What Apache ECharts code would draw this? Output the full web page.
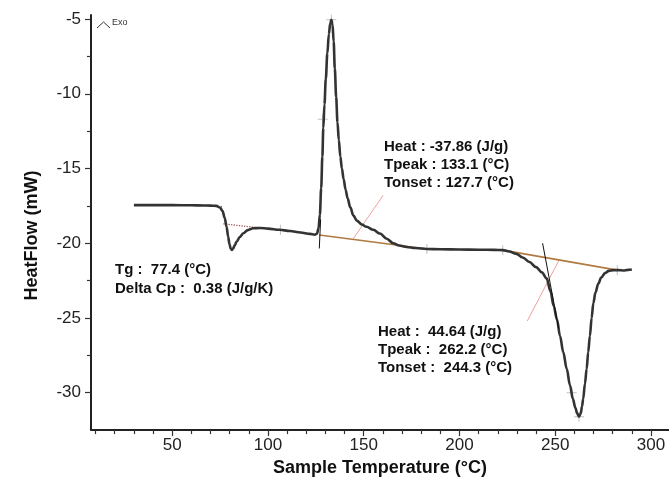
<!DOCTYPE html>
<html><head><meta charset="utf-8">
<script src="https://cdn.jsdelivr.net/npm/echarts@6/dist/echarts.min.js"></script>
<style>html,body{margin:0;padding:0;background:#fff}#c{width:669px;height:482px}</style>
</head><body><div id="c"></div>
<script>
// DSC curve: sample temperature (°C) and heat flow (mW)
const temperature = [30,40,50,60,66,70,73,75,76.3,77.4,78.4,79.2,79.9,80.5,81.1,81.8,82.7,83.7,85.3,87.1,89.5,92.3,96,100,106,111.5,117,121.9,124.5,125.6,126.4,127.1,127.8,128.4,128.9,129.5,130.2,131,131.8,132.5,133.1,133.7,134.3,134.9,135.6,136.3,137,137.8,138.6,139.5,140.5,141.6,143,144.6,146.5,149,151.5,155,158.5,162,165.4,168.5,172.4,177,183,190,200,210,218,222.5,226,229.5,233,236.5,240,243,245.5,247.5,249.2,250.9,252.5,254.2,256,257.7,259.2,260.5,261.5,262.4,263.3,264,264.6,265.5,266.4,267.2,268.1,269,269.9,271,272.5,274,276,278,280.3,283,285.5,288,290];
const heatFlow = [-17.45,-17.45,-17.45,-17.46,-17.47,-17.48,-17.5,-17.62,-17.85,-18.3,-18.9,-19.55,-20.05,-20.35,-20.45,-20.35,-20.12,-19.88,-19.58,-19.33,-19.12,-19.0,-18.98,-19.02,-19.1,-19.18,-19.28,-19.37,-19.43,-19.35,-19.0,-18.1,-16.3,-14.2,-12.3,-10.7,-9.0,-7.3,-6.0,-5.3,-5.05,-5.35,-6.5,-8.3,-10.2,-11.9,-13.1,-14.2,-15.0,-15.7,-16.4,-17.0,-17.6,-18.15,-18.5,-18.75,-18.9,-19.1,-19.35,-19.7,-20.0,-20.15,-20.25,-20.32,-20.38,-20.4,-20.42,-20.43,-20.44,-20.46,-20.55,-20.7,-20.95,-21.25,-21.6,-21.95,-22.35,-23.2,-24.2,-25.1,-26.2,-27.3,-28.4,-29.5,-30.4,-31.0,-31.4,-31.6,-31.4,-30.9,-30.4,-29.4,-28.4,-27.3,-26.2,-25.0,-24.0,-23.3,-22.7,-22.3,-22.0,-21.85,-21.8,-21.8,-21.82,-21.78,-21.75];

// integration baselines [x, y]
const exoBaseline = [[126.8,-19.45],[183,-20.38]];
const endoBaseline = [[222.6,-20.46],[282.4,-21.8]];
// onset tangents
const exoTangent = [[126.8,-20.35],[127.5,-18.4]];
const endoTangent = [[243.4,-20.0],[251.8,-25.7]];
// pointer lines to the result texts
const exoPointer = [[144.5,-19.7],[160.1,-16.8]];
const endoPointer = [[235.4,-25.2],[252.1,-21.1]];
// glass transition extrapolated baselines
const tgUpper = [[64.5,-17.45],[76.7,-17.55]];
const tgLower = [[76.7,-18.7],[97.5,-19.0]];
// analysis markers
const markers = [[106.5,-19.1],[183,-20.38],[222.6,-20.46],[282.4,-21.8],[258.6,-30.0],[262.4,-31.6],[128.6,-11.7],[133.1,-5.05]];

// axes
const xRange = [7.6, 309.4];
const yRange = [-32.5, -4.73];
const xMajorTicks = [50,100,150,200,250,300];
const xMinorTicks = [10,20,30,40,60,70,80,90,110,120,130,140,160,170,180,190,210,220,230,240,260,270,280,290];
const yMajorTicks = [-30,-25,-20,-15,-10,-5];
const yMinorTicks = [-27.5,-22.5,-17.5,-12.5,-7.5];

// annotation texts
const exoText = ['Heat : -37.86 (J/g)','Tpeak : 133.1 (°C)','Tonset : 127.7 (°C)'];
const tgText = ['Tg :  77.4 (°C)','Delta Cp :  0.38 (J/g/K)'];
const endoText = ['Heat :  44.64 (J/g)','Tpeak :  262.2 (°C)','Tonset :  244.3 (°C)'];

const FONT = '"Liberation Sans", Arial, sans-serif';
const curve = temperature.map((t, i) => [t, heatFlow[i]]);

function seg(data, color, width, type) {
  return { type: 'line', data: data, showSymbol: false, silent: true, animation: false,
    lineStyle: { color: color, width: width, type: type || 'solid' } };
}

const chart = echarts.init(document.getElementById('c'), null, { renderer: 'canvas' });
chart.setOption({
  animation: false,
  backgroundColor: '#fff',
  grid: { left: 91, right: 0, top: 15, bottom: 49, containLabel: false },
  xAxis: [{
    type: 'value', min: xRange[0], max: xRange[1], position: 'bottom',
    name: 'Sample Temperature (°C)', nameLocation: 'middle', nameGap: 24,
    nameTextStyle: { fontFamily: FONT, fontWeight: 'bold', fontSize: 18, color: '#111' },
    axisLine: { show: true, onZero: false, lineStyle: { color: '#222', width: 2 } },
    axisTick: { show: true, customValues: xMajorTicks, length: 6, lineStyle: { color: '#333', width: 1.2 } },
    axisLabel: { customValues: xMajorTicks, fontFamily: FONT, fontSize: 17, color: '#222', margin: 7 },
    splitLine: { show: false }
  }, {
    type: 'value', min: xRange[0], max: xRange[1], position: 'bottom', offset: 0,
    axisLine: { show: false },
    axisTick: { show: true, customValues: xMinorTicks, length: 4, lineStyle: { color: '#333', width: 1.2 } },
    axisLabel: { show: false }, splitLine: { show: false }
  }],
  yAxis: [{
    type: 'value', min: yRange[0], max: yRange[1], position: 'left',
    name: 'HeatFlow (mW)', nameLocation: 'middle', nameGap: 50,
    nameTextStyle: { fontFamily: FONT, fontWeight: 'bold', fontSize: 18, color: '#111', padding: [0, 26, 0, 0] },
    axisLine: { show: true, onZero: false, lineStyle: { color: '#222', width: 2 } },
    axisTick: { show: true, customValues: yMajorTicks, length: 6, lineStyle: { color: '#333', width: 1.2 } },
    axisLabel: { customValues: yMajorTicks, fontFamily: FONT, fontSize: 17, color: '#222', margin: 10 },
    splitLine: { show: false }
  }, {
    type: 'value', min: yRange[0], max: yRange[1], position: 'left', offset: 0,
    axisLine: { show: false },
    axisTick: { show: true, customValues: yMinorTicks, length: 4, lineStyle: { color: '#333', width: 1.2 } },
    axisLabel: { show: false }, splitLine: { show: false }
  }],
  series: [
    seg(tgUpper, '#a85a5a', 1.3, 'dotted'),
    seg(tgLower, '#a85a5a', 1.3, 'dotted'),
    seg(exoPointer, '#f0a0a0', 1),
    seg(endoPointer, '#f0a0a0', 1),
    seg(exoBaseline, '#b07a40', 1.6),
    seg(endoBaseline, '#b07a40', 1.6),
    {
      type: 'scatter', data: markers, silent: true, animation: false,
      symbol: 'path://M4.5,0H5.5V10H4.5Z M0,4.5H10V5.5H0Z', symbolSize: 10,
      itemStyle: { color: '#b0b0b0' }
    },
    {
      type: 'line', data: curve, showSymbol: false, smooth: 0.35, smoothMonotone: 'x',
      silent: true, animation: false,
      lineStyle: { color: '#333', width: 2.6 }
    },
    seg(exoTangent, '#111', 1),
    seg(endoTangent, '#111', 1)
  ],
  graphic: [
    { type: 'polyline', shape: { points: [[97, 28], [103.5, 22], [110, 28]] }, style: { stroke: '#333', lineWidth: 1, fill: null } },
    { type: 'text', left: 112, top: 18, style: { text: 'Exo', font: '9px ' + FONT, fill: '#333' } },
    { type: 'text', left: 384, top: 137.5, style: { text: exoText.join('\n'), font: 'bold 15px ' + FONT, fill: '#111', lineHeight: 18.3 } },
    { type: 'text', left: 115, top: 260.4, style: { text: tgText.join('\n'), font: 'bold 15px ' + FONT, fill: '#111', lineHeight: 19.3 } },
    { type: 'text', left: 378, top: 322.5, style: { text: endoText.join('\n'), font: 'bold 15px ' + FONT, fill: '#111', lineHeight: 18.3 } }
  ]
});
</script>
</body></html>
